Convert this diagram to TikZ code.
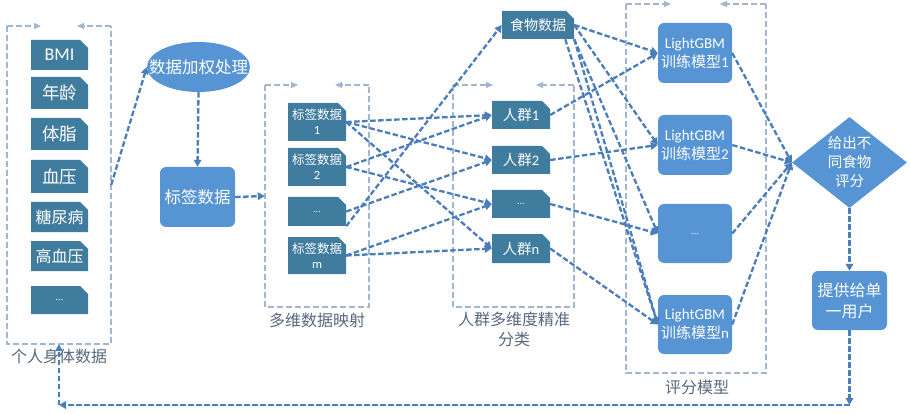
\documentclass[tikz,border=0pt]{standalone}
\usepackage{fontspec}
\setmainfont{Carlito}
\newfontfamily\cjk{Noto Sans CJK SC}
\newcommand\zh[1]{{\cjk #1}}
\usetikzlibrary{arrows.meta,shapes.geometric,calc}
\definecolor{snipc}{RGB}{64,124,158}
\definecolor{bluec}{RGB}{86,148,212}
\definecolor{connc}{RGB}{74,125,187}
\definecolor{framec}{RGB}{160,182,210}
\definecolor{labc}{RGB}{88,104,126}
\tikzset{
  conn/.style={draw=connc, line width=2.3pt, dash pattern=on 5.5pt off 2.5pt, -{Triangle[length=7pt,width=7.5pt]}},
  frame/.style={draw=framec, line width=1.1pt, dash pattern=on 6pt off 3pt},
  ftip/.style={-{Triangle[length=7pt,width=6pt]}},
  rbox/.style={fill=bluec, rounded corners=6pt, text=white, inner sep=0pt, align=center},
  glabel/.style={text=labc, align=center, inner sep=0pt, font=\fontsize{16}{20}\selectfont\cjk},
}
\newcommand\snipbox[7]{%
  \fill[snipc] (#2,#3) -- ({#4-8},#3) -- (#4,{#3+8}) -- (#4,#5) -- (#2,#5) -- cycle;
  \node[text=white, inner sep=0pt, align=center, font=#6,
        minimum width={(#4-#2)*1pt}, minimum height={(#5-#3)*1pt}]
        (#1) at ({(#2+#4)/2},{(#3+#5)/2}) {#7};
}
\newcommand\rboxat[7]{%
  \node[rbox, font=#6, minimum width={(#4-#2)*1pt}, minimum height={(#5-#3)*1pt}]
        (#1) at ({(#2+#4)/2},{(#3+#5)/2}) {#7};
}
\newcommand\grp[7]{%
  \node[inner sep=0pt, minimum width={(#4-#2)*1pt}, minimum height={(#5-#3)*1pt}]
        (#1) at ({(#2+#4)/2},{(#3+#5)/2}) {};
  \draw[frame] (#2,#3) -- (#2,#5) -- (#4,#5) -- (#4,#3);
  \draw[frame,ftip] (#2,#3) -- (#6,#3);
  \draw[frame,ftip] (#4,#3) -- (#7,#3);
}
\begin{document}
\begin{tikzpicture}[x=1pt,y=-1pt]
\useasboundingbox (0,0) rectangle (910,414);
% group frames
\grp{g1}{7}{26}{111}{344}{41}{77}
\grp{g2}{265}{85}{369}{307}{298}{335}
\grp{g3}{453}{85}{574}{307}{493}{536}
\grp{g4}{626}{4}{766}{373}{671}{720}
\node[glabel] (l1) at (59,356) {个人身体数据};
\node[glabel] (l2) at (317,320) {多维数据映射};
\node[glabel] (l3) at (514,329) {人群多维度精准\\分类};
\node[glabel] (l4) at (697,387) {评分模型};
% personal data
\snipbox{d1}{31}{40}{88}{70}{\fontsize{18}{20}\selectfont}{BMI}
\snipbox{d2}{31}{77}{88}{109}{\fontsize{17.5}{20}\selectfont\cjk}{年龄}
\snipbox{d3}{31}{118}{88}{150}{\fontsize{17.5}{20}\selectfont\cjk}{体脂}
\snipbox{d4}{31}{160}{88}{193}{\fontsize{17.5}{20}\selectfont\cjk}{血压}
\snipbox{d5}{31}{202}{88}{232}{\fontsize{16}{18}\selectfont\cjk}{糖尿病}
\snipbox{d6}{31}{241}{88}{271}{\fontsize{16}{18}\selectfont\cjk}{高血压}
\snipbox{d7}{31}{286}{88}{314}{\fontsize{10}{12}\selectfont}{...}
% weighting
\node[ellipse, fill=bluec, minimum width=103pt, minimum height=50pt, inner sep=0pt] (wt) at (198.5,67) {};
\node[text=white, inner sep=0pt, font=\fontsize{16.5}{20}\selectfont\cjk] (wtt) at (wt.center) {数据加权处理};
\rboxat{tag}{160}{167}{235}{227}{\fontsize{16.5}{20}\selectfont\cjk}{标签数据}
% label data
\snipbox{b1}{288}{103}{346}{141}{\fontsize{12.5}{15}\selectfont}{\zh{标签数据}\\1}
\snipbox{b2}{288}{148}{346}{186}{\fontsize{12.5}{15}\selectfont}{\zh{标签数据}\\2}
\snipbox{b3}{288}{197}{346}{226}{\fontsize{10}{12}\selectfont}{...}
\snipbox{bm}{288}{237}{346}{274}{\fontsize{12.5}{15}\selectfont}{\zh{标签数据}\\m}
% crowds
\snipbox{p1}{492}{101}{550}{129}{\fontsize{14.5}{17}\selectfont}{\zh{人群}1}
\snipbox{p2}{492}{146}{550}{174}{\fontsize{14.5}{17}\selectfont}{\zh{人群}2}
\snipbox{pd}{492}{190}{550}{218}{\fontsize{10}{12}\selectfont}{...}
\snipbox{pn}{492}{234}{550}{263}{\fontsize{14.5}{17}\selectfont}{\zh{人群}n}
\snipbox{food}{502}{11}{574}{39}{\fontsize{14}{17}\selectfont\cjk}{食物数据}
% models
\rboxat{m1}{658}{23}{732}{83}{\fontsize{15}{19}\selectfont}{LightGBM\\\zh{训练模型}1}
\rboxat{m2}{658}{115}{732}{175}{\fontsize{15}{19}\selectfont}{LightGBM\\\zh{训练模型}2}
\rboxat{md}{658}{204}{732}{263}{\fontsize{10}{12}\selectfont}{...}
\rboxat{mn}{658}{295}{732}{354}{\fontsize{15}{19}\selectfont}{LightGBM\\\zh{训练模型}n}
% decision
\node[diamond, aspect=1.26, fill=bluec, minimum width=115pt, minimum height=91pt, inner sep=0pt] (dia) at (849.5,162.5) {};
\node[text=white, align=center, inner sep=0pt, font=\fontsize{14.5}{19}\selectfont\cjk] (diat) at (dia.center) {给出不\\同食物\\评分};
\rboxat{user}{812}{271}{887}{330}{\fontsize{16}{21}\selectfont\cjk}{提供给单\\一用户}
% connectors
\draw[conn] (g1.east) -- (wt.west);
\draw[conn] (wt.south) -- (tag.north);
\draw[conn] (tag.east) -- (g2.west);
\draw[conn] (b1.east) -- (p1.west);
\draw[conn] (b1.east) -- (p2.west);
\draw[conn] (b1.east) -- (pn.west);
\draw[conn] (b2.east) -- (p1.west);
\draw[conn] (b2.east) -- (pd.west);
\draw[conn] (b3.east) -- (p2.west);
\draw[conn] (b3.south east) -- (food.west);
\draw[conn] (bm.east) -- (pd.west);
\draw[conn] (bm.east) -- (pn.west);
\draw[conn] (p1.east) -- (m1.west);
\draw[conn] (p2.east) -- (m2.west);
\draw[conn] (pd.east) -- (md.west);
\draw[conn] (pn.east) -- (mn.west);
\draw[conn] (food.east) -- (m1.west);
\draw[conn] (food.east) -- (m2.west);
\draw[conn] (food.south east) -- (md.west);
\draw[conn] (food.south east) -- (mn.west);
\draw[conn] ([xshift=-9pt]food.south east) -- (mn.west);
\draw[conn] (m1.east) -- (dia.west);
\draw[conn] (m2.east) -- (dia.west);
\draw[conn] (md.east) -- (dia.west);
\draw[conn] (mn.east) -- (dia.west);
\draw[conn] (dia.south) -- (user.north);
\coordinate (c1) at (849.5,405);
\coordinate (c2) at (59,405);
\draw[conn] (user.south) -- (c1);
\draw[conn] (c1) -- (c2);
\draw[conn] (c2) -- (g1.south);
\end{tikzpicture}
\end{document}
